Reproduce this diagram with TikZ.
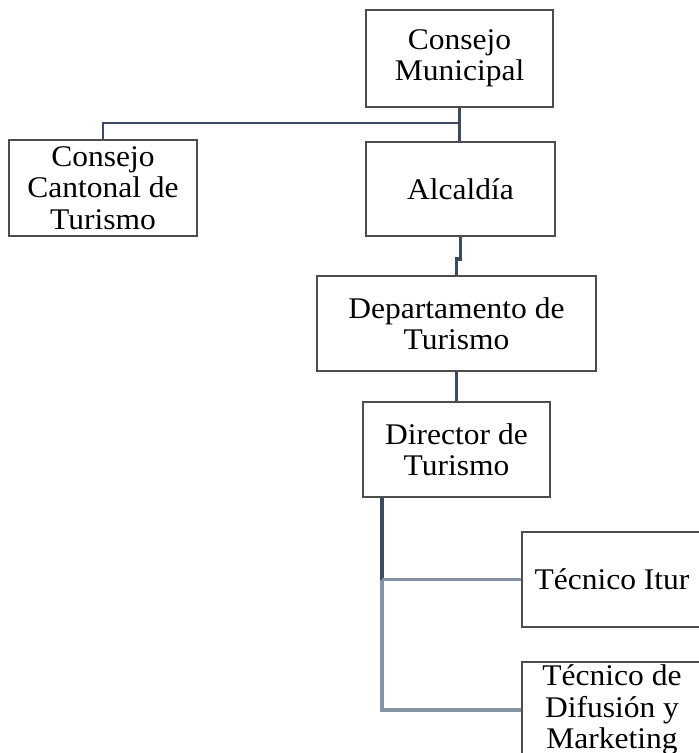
\documentclass[tikz,border=0pt]{standalone}
\usepackage{fontspec}
\setmainfont{Liberation Serif}[FakeStretch=1.05]
\usepackage{tikz}
\usetikzlibrary{calc}
\usetikzlibrary{shadows}
\definecolor{linecolor}{HTML}{3B4A60}
\definecolor{sublinecolor}{HTML}{8593A5}
\definecolor{boxcolor}{HTML}{4D4D4D}

\begin{document}
\begin{tikzpicture}[x=1pt,y=1pt,
  unit/.style={draw=boxcolor,line width=2pt,fill=white,align=center,inner sep=0pt,
    font=\fontsize{30}{31.5}\selectfont,
    drop shadow={shadow xshift=1pt,shadow yshift=-1pt,opacity=0.35}},
  link/.style={linecolor,line width=3.5pt},
  sublink/.style={sublinecolor,line width=3.5pt}]
\path[use as bounding box,clip] (0,0) rectangle (699,-753);

\node[unit,minimum width=187,minimum height=97] (cm) at (459.5,-58.5) {Consejo\\Municipal};
\node[unit,minimum width=189,minimum height=94] (alc) at (460.5,-189) {Alcaldía};
\node[unit,minimum width=188,minimum height=96] (cct) at (103,-188) {Consejo\\Cantonal de\\Turismo};
\node[unit,minimum width=279,minimum height=95] (dep) at (456.5,-323.5) {Departamento de\\Turismo};
\node[unit,minimum width=187,minimum height=95] (dir) at (456.5,-449.5) {Director de\\Turismo};
\node[unit,minimum width=180,minimum height=95] (itur) at (612,-579.5) {Técnico Itur};
\node[unit,minimum width=180,minimum height=96] (mkt) at (612,-710) {Técnico de\\Difusión y\\Marketing};

\coordinate (split) at ($(cm.south)+(0,-15)$);
\coordinate (trunk) at ($(dir.south west)+(20,0)$);

\draw[link] (cm.south) -- (cm.south |- alc.north);
\draw[link,line width=2.5pt] (split) -| (cct.north);
\draw[link] (alc.south) -- ++(0,-22) -| (dep.north);
\draw[link] (dep.south -| dir.north) -- (dir.north);
\draw[link] (trunk) -- (trunk |- itur.west);
\draw[sublink] (trunk |- itur.west) -- (itur.west);
\draw[sublink] (trunk |- itur.west) |- (mkt.west);
\end{tikzpicture}
\end{document}
